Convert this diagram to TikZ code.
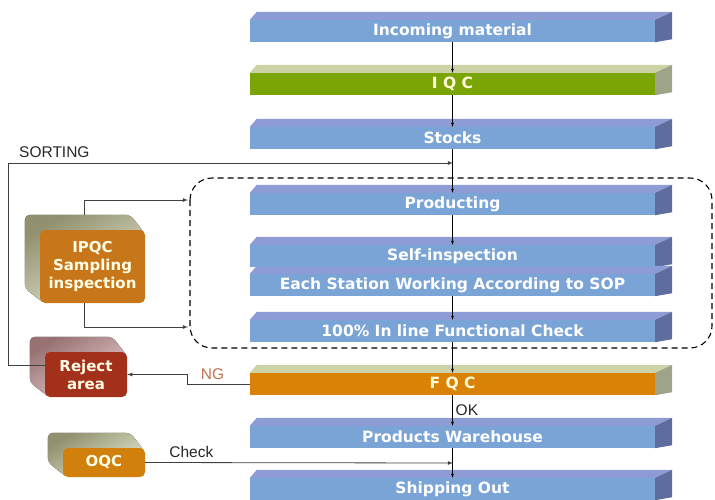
\documentclass[tikz,border=0pt]{standalone}
\usepackage{fontspec}
\setmainfont{DejaVu Sans}
\newfontfamily\labelfont{Liberation Sans}
\usetikzlibrary{arrows,positioning,backgrounds,calc}

\definecolor{barfront}{HTML}{7BA4D6}
\definecolor{bartop}{HTML}{8E9CD6}
\definecolor{barside}{HTML}{5F6C9E}
\definecolor{iqcfront}{HTML}{7AA504}
\definecolor{qctop}{HTML}{CDD3A6}
\definecolor{qcside}{HTML}{9EA488}
\definecolor{fqcfront}{HTML}{D98205}
\definecolor{ipqcfront}{HTML}{C8761A}
\definecolor{rejfront}{HTML}{A3301A}
\definecolor{rejback}{HTML}{D9A2A4}
\definecolor{oqcfront}{HTML}{D1800C}
\definecolor{boxback}{HTML}{CFCFA0}
\definecolor{nglabel}{HTML}{C0704F}

\begin{document}
\begin{tikzpicture}[x=1pt, y=1pt, >=latex,
            bar/.style={minimum width=405pt, minimum height=22pt, inner sep=0pt,
                        fill=barfront, text=white, font=\bfseries\fontsize{15.5}{16}\selectfont}, % the flat slabs
            qcbar/.style={bar, text=yellow!15}, % quality gates in the main flow
            block/.style={rounded corners=5pt, inner sep=0pt, align=center,
                          text=yellow!10, font=\bfseries\fontsize{15}{18}\selectfont}, % boxes on the left
            flow/.style={->, thin, black}, % main vertical flow
            sideline/.style={->, gray!50!black, line width=0.8pt}, % loops from the left boxes
            tag/.style={font=\labelfont\fontsize{15.5}{16}\selectfont, inner sep=1pt, text=black!85},
        ]
        \useasboundingbox (0,0) rectangle (715,-499);

        % main flow
        \node (inc)  [bar]                        at (452.5,-31)  {Incoming material};
        \node (iqc)  [qcbar, fill=iqcfront]       at (452.5,-84)  {I Q C};
        \node (stk)  [bar]                        at (452.5,-138) {Stocks};
        \node (prod) [bar]                        at (452.5,-204) {Producting};
        \node (self) [bar]                        at (452.5,-256) {Self-inspection};
        \node (sop)  [bar]                        at (452.5,-285) {Each Station Working According to SOP};
        \node (chk)  [bar]                        at (452.5,-331) {100\% In line Functional Check};
        \node (fqc)  [qcbar, fill=fqcfront]       at (452.5,-384) {F Q C};
        \node (wh)   [bar]                        at (452.5,-437) {Products Warehouse};
        \node (ship) [bar]                        at (452.5,-489) {Shipping Out};

        % boxes on the left
        \node (ipqc)   [block, fill=ipqcfront, minimum width=105pt, minimum height=73pt] at (92.5,-266.5) {IPQC\\Sampling\\inspection};
        \node (reject) [block, fill=rejfront, minimum width=82pt, minimum height=45pt]   at (86,-374.5)   {Reject\\area};
        \node (oqc)    [block, fill=oqcfront, minimum width=82pt, minimum height=29pt]   at (104,-462.5)  {OQC};

        % top and side faces
        \begin{scope}[on background layer]
            \foreach \n/\t/\s in {inc/bartop/barside, iqc/qctop/qcside, stk/bartop/barside,
                                  prod/bartop/barside, self/bartop/barside, sop/bartop/barside,
                                  chk/bartop/barside, fqc/qctop/qcside, wh/bartop/barside,
                                  ship/bartop/barside}{
                \fill[\t] (\n.north west) -- ++(7,8) -- ($(\n.north east)+(17,8)$) -- (\n.north east) -- cycle;
                \fill[\s] (\n.north east) -- ++(17,8) -- ($(\n.south east)+(17,3)$) -- (\n.south east) -- cycle;
            }
            \foreach \n/\c in {ipqc/boxback, reject/rejback, oqc/boxback}{
                \fill[top color=\c!70!black, bottom color=\c!50!white, shading angle=30, rounded corners=5pt]
                    ($(\n.north west)+(-15,15)$) -- ($(\n.north east)+(-15,15)$)
                    -- ($(\n.north east)+(0,-4)$) -- ($(\n.south west)+(4,0)$) -- ($(\n.south west)+(-15,15)$) -- cycle;
            }
        \end{scope}

        % production area
        \draw[dashed, line width=1.1pt, dash pattern=on 6pt off 4pt, rounded corners=22pt] (190,-178) rectangle (712,-348);

        \coordinate (sortEnd)  at (453,-163);
        \coordinate (checkEnd) at (453,-463);
        \coordinate (ipqcIn)   at (188,-200);
        \coordinate (ipqcOut)  at (188,-327);

        \draw[flow] (inc) -- (iqc);
        \draw[flow] (iqc) -- (stk);
        \draw[flow] (stk) -- (prod);
        \draw[flow] (prod) -- (self);
        \draw[flow] (sop) -- (chk);
        \draw[flow] (chk) -- (fqc);
        \draw[flow] (fqc) -- node[tag, right=2pt] {OK} (wh);
        \draw[flow] (wh) -- (ship);

        \draw[sideline] ([xshift=-8pt,yshift=15pt]ipqc.north) |- (ipqcIn);
        \draw[sideline] ([xshift=-8pt]ipqc.south) |- (ipqcOut);
        \draw[sideline] ([yshift=9pt]reject.west) -- ++(-36,0) |- node[tag, pos=0.5, anchor=south west, xshift=9pt, yshift=4pt] {SORTING} (sortEnd);
        \draw[sideline] (fqc.west) -- node[tag, pos=0.6, above=3pt, text=nglabel] {NG} ++(-62,0) |- (reject.east);
        \draw[sideline] (oqc.east) -- node[tag, pos=0.15, above=4pt] {Check} (checkEnd);
    \end{tikzpicture}
\end{document}
